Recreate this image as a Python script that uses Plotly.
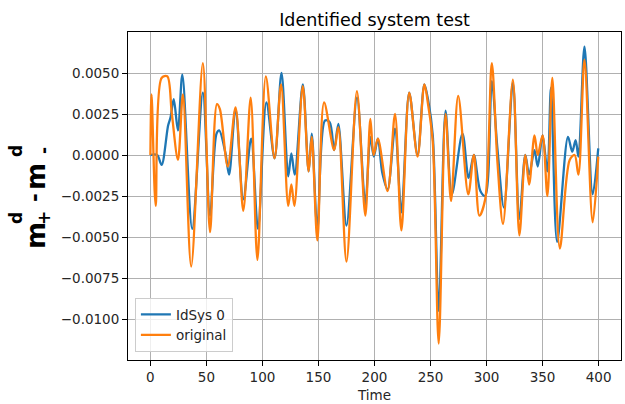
import plotly.graph_objects as go

# ---- data ----
t_orig = [0, 1, 4.7, 10, 15, 19, 24.6, 29, 36.4, 46.8, 53.2, 59.4, 62, 69, 76, 82.9, 89.5, 95.5,
          103, 110.8, 116.6, 123, 125.8, 128.5, 136, 141.2, 144, 149, 155, 164, 167.7, 175,
          184.3, 191.8, 196.3, 199.2, 203, 211.7, 218.3, 224, 231, 238.4, 244.5, 248, 252,
          257.3, 263.4, 268.3, 274.7, 283.7, 288.7, 293.6, 298.8, 304.7, 309.7, 314.7, 323.5,
          329.3, 334.6, 338, 342.8, 345.7, 350, 354.3, 358.7, 365.4, 374.2, 378.6, 382, 387.4,
          394.7, 399.7]
v_orig = [0.0, 0.0037, -0.0031, 0.0047, 0.0048, 0.0026, -0.0003, 0.0037, -0.0068, 0.0056,
          -0.0047, 0.0031, 0.0028, -0.0007, 0.0029, -0.0034, 0.0035, -0.0064,
          0.0048, -0.0002, 0.0043, -0.0031, -0.0018, -0.0031, 0.0042, -0.0010, 0.0011, -0.0052,
          0.0032, 0.0003, 0.0017, -0.0065,
          0.0039, -0.0037, 0.0022, 0.0, 0.0010, -0.0022, 0.0025, -0.0046, 0.0038, -0.0001,
          0.0043, 0.0030, 0.0008,
          -0.0115, 0.0025, -0.0028, 0.0036, -0.0024, 0.0, -0.0037, -0.0027, 0.0056, -0.0004,
          -0.0042, 0.0046,
          -0.0049, 0.0, -0.0018, 0.0012, 0.0, 0.0012, -0.0025, 0.0047, -0.0057, -0.0003, 0.0,
          -0.0012, 0.0058,
          -0.0041, -0.0001]

t_id = [0, 6, 10, 15.8, 18, 20.8, 24.6, 28.5, 37.3, 46.8, 53.2, 59, 61.4, 67, 70.2, 76, 82.9,
        89.9, 96, 103.5, 110.8, 117, 123, 125.8, 128.8, 136, 141.2, 144, 149, 155.9, 160, 164,
        167.7, 175, 184.4, 191.8, 196.3, 199.4, 203, 207, 211.7, 218.3, 224, 231, 238.4, 244.5,
        248, 252, 257.3, 263.4, 269, 278.5, 284, 288.7, 294.5, 298.8, 304.7, 309.7, 315.5,
        323.5, 329.3, 334.6, 338, 342.8, 345.7, 350, 354.3, 357.5, 363, 372.7, 376.5, 379.5,
        382, 387.4, 394.7, 399.7]
v_id = [0.0, 0.0, -0.0006, 0.0018, 0.0023, 0.0034, 0.0015, 0.0049, -0.0045, 0.0038, -0.0037,
        0.0013, 0.0015, 0.0001, -0.0012, 0.0028, -0.0027,
        0.0010, -0.0045, 0.0032, -0.0002, 0.0050, -0.0013, 0.0001, -0.0012, 0.0043, -0.0010,
        0.0013, -0.0045, 0.0021, 0.0020, 0.0003,
        0.0019, -0.0043, 0.0035, -0.0030, 0.0011, -0.0001, 0.0010, -0.0011, -0.0021, 0.0016,
        -0.0035, 0.0038, 0.0, 0.0043,
        0.0033, 0.0012, -0.0095, 0.0027, -0.0024, 0.0013, -0.0014, 0.0, -0.0022, -0.0025,
        0.0045, 0.0004, -0.0032,
        0.0044, -0.0039, 0.0, -0.0012, 0.0003, -0.0007, 0.0012, -0.0010, 0.0041, -0.0053,
        0.0011, 0.0002, 0.0009,
        -0.0001, 0.0066, -0.0024, 0.0004]

series_names = ["IdSys 0", "original"]
x_ticks = [0, 50, 100, 150, 200, 250, 300, 350, 400]
y_ticks = [-0.01, -0.0075, -0.005, -0.0025, 0.0, 0.0025, 0.005]

BLUE = "#1f77b4"
ORANGE = "#ff7f0e"
FONT = "DejaVu Sans"

fig = go.Figure()
fig.add_trace(go.Scatter(x=t_id, y=v_id, mode="lines", name=series_names[0],
                         line=dict(color=BLUE, width=2.3, shape="spline", smoothing=0.9)))
fig.add_trace(go.Scatter(x=t_orig, y=v_orig, mode="lines", name=series_names[1],
                         line=dict(color=ORANGE, width=2.3, shape="spline", smoothing=0.9)))

L, R, T, B = 128, 4, 32, 44
W, H = 625, 404
pw, ph = W - L - R, H - T - B

axis_common = dict(showline=True, linecolor="black", linewidth=1, mirror=True,
                   showgrid=True, gridcolor="#b0b0b0", gridwidth=1, zeroline=False,
                   ticks="outside", ticklen=5, tickwidth=1, tickcolor="black",
                   tickfont=dict(family=FONT, size=13.5, color="#262626"))

fig.update_xaxes(range=[-20, 420], tickvals=x_ticks,
                 title=dict(text="Time", font=dict(family=FONT, size=13.5, color="#262626"),
                            standoff=6),
                 **axis_common)
fig.update_yaxes(range=[-0.0125, 0.0075], tickvals=y_ticks, tickformat=".4f",
                 **axis_common)


def px_to_paper(px, py):
    return (px - L) / pw, (H - B - py) / ph


anns = []
def add_label(text, px, py, size):
    x, y = px_to_paper(px, py)
    anns.append(dict(text=text, x=x, y=y, xref="paper", yref="paper", showarrow=False,
                     textangle=-90, xanchor="center", yanchor="middle",
                     font=dict(family=FONT, size=size, color="black")))

add_label("<b>m</b>", 36, 236, 26)
add_label("<b>d</b>", 16, 218, 17)
add_label("<b>+</b>", 44, 218, 17)
add_label("<b>-</b>", 35, 198, 21)
add_label("<b>m</b>", 36, 177, 26)
add_label("<b>d</b>", 16, 151, 17)
add_label("<b>-</b>", 44, 151, 17)

fig.update_layout(
    width=W, height=H,
    margin=dict(l=L, r=R, t=T, b=B),
    paper_bgcolor="white", plot_bgcolor="white",
    title=dict(text="Identified system test", x=(L + pw / 2) / W, xanchor="center",
               y=1 - 20 / H, yanchor="middle",
               font=dict(family=FONT, size=17.5, color="black")),
    legend=dict(x=0.014, y=0.024, xanchor="left", yanchor="bottom",
                bgcolor="rgba(255,255,255,0.8)", bordercolor="#cccccc", borderwidth=1,
                font=dict(family=FONT, size=13.5, color="#262626"),
                itemwidth=30, tracegroupgap=0),
    annotations=anns,
    showlegend=True,
)

fig.write_html("out.html")
